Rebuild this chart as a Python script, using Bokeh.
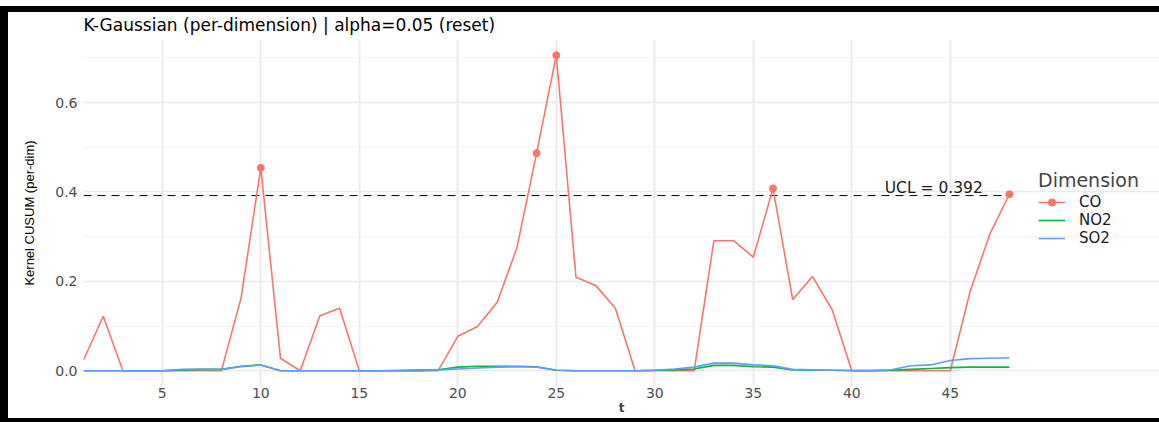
from bokeh.plotting import figure
from bokeh.models import Range1d, Label, Legend, LegendItem, FixedTicker, PrintfTickFormatter
from bokeh.embed import file_html
from bokeh.resources import INLINE

# ---- data ----
t = list(range(1, 49))
co = [0.024, 0.122, 0, 0, 0, 0, 0, 0,
      0.163, 0.454, 0.028, 0, 0.123, 0.140, 0,
      0, 0, 0, 0,
      0.077, 0.099, 0.153, 0.275, 0.487, 0.706, 0.209, 0.191, 0.140, 0,
      0, 0, 0,
      0.291, 0.291, 0.254, 0.408, 0.159, 0.211, 0.137, 0,
      0, 0, 0, 0, 0,
      0.176, 0.305, 0.395]
no2 = [0, 0, 0, 0, 0, 0.002, 0.003, 0.003, 0.010, 0.013,
       0, 0, 0, 0, 0, 0, 0, 0, 0.002, 0.008,
       0.010, 0.010, 0.010, 0.009, 0.001, 0, 0, 0, 0, 0.001,
       0.002, 0.004, 0.012, 0.012, 0.009, 0.008, 0.002, 0.001, 0.001, 0,
       0, 0.001, 0.003, 0.005, 0.007, 0.008, 0.008, 0.008]
so2 = [0, 0, 0, 0, 0, 0.003, 0.003, 0.003, 0.009, 0.013,
       0, 0, 0, 0, 0, 0, 0.001, 0.002, 0.002, 0.004,
       0.006, 0.008, 0.009, 0.008, 0.001, 0, 0, 0, 0, 0.001,
       0.004, 0.008, 0.017, 0.017, 0.013, 0.011, 0.003, 0.002, 0.001, 0.001,
       0.001, 0.002, 0.011, 0.013, 0.023, 0.027, 0.028, 0.029]
ucl = 0.392
dims = ["CO", "NO2", "SO2"]
colors = ["#F8766D", "#00BA38", "#619CFF"]
x_ticks = [5, 10, 15, 20, 25, 30, 35, 40, 45]
y_ticks = [0.0, 0.2, 0.4, 0.6]
y_minor = [0.1, 0.3, 0.5, 0.7]

flag_t = [ti for ti, v in zip(t, co) if v > ucl]
flag_v = [v for v in co if v > ucl]

ymax = max(co)
pad = 0.05 * ymax
x_end_legend_room = 7.62   # extra room to the right of the data for the legend

p = figure(width=1151, height=406,
           x_range=Range1d(min(t), max(t) + x_end_legend_room),
           y_range=Range1d(-pad, ymax + pad),
           output_backend="svg", toolbar_location=None,
           min_border_left=75, min_border_right=0, min_border_top=26, min_border_bottom=32,
           styles={"position": "absolute", "left": "8px", "top": "12px",
                   "box-shadow": "-8px 0 0 0 #000, 0 -6px 0 0 #000, -8px -6px 0 0 #000, "
                                 "0 4px 0 0 #000, -8px 4px 0 0 #000"})

p.title.text = "K-Gaussian (per-dimension) | alpha=0.05 (reset)"
p.title.text_font = "DejaVu Sans"
p.title.text_font_size = "17px"
p.title.text_font_style = "normal"
p.title.text_color = "#000000"
p.title.align = "left"
p.title.vertical_align = "top"
p.title.offset = 0
p.title.standoff = 5

p.outline_line_color = None
p.background_fill_color = "white"
p.border_fill_color = "white"

# axes
p.xaxis.ticker = FixedTicker(ticks=x_ticks)
p.yaxis.ticker = FixedTicker(ticks=y_ticks, minor_ticks=y_minor)
p.yaxis.formatter = PrintfTickFormatter(format="%.1f")
for ax in (p.xaxis, p.yaxis):
    ax.axis_line_color = None
    ax.major_tick_line_color = None
    ax.minor_tick_line_color = None
    ax.major_tick_out = 0
    ax.minor_tick_out = 0
    ax.major_label_text_color = "#4D4D4D"
    ax.major_label_text_font = "DejaVu Sans"
    ax.major_label_text_font_size = "14px"
p.xaxis.major_label_standoff = 1
p.yaxis.major_label_standoff = 6
p.xaxis.axis_label = "t"
p.xaxis.axis_label_text_font = "DejaVu Sans"
p.xaxis.axis_label_text_font_size = "12px"
p.xaxis.axis_label_text_font_style = "bold"
p.xaxis.axis_label_standoff = 0
p.yaxis.axis_label = "Kernel CUSUM (per-dim)"
p.yaxis.axis_label_text_font = "Liberation Sans"
p.yaxis.axis_label_text_font_size = "13px"
p.yaxis.axis_label_text_font_style = "normal"
p.yaxis.axis_label_text_color = "#000000"
p.yaxis.axis_label_standoff = 15

# grids
p.xgrid.grid_line_color = "#EBEBEB"
p.xgrid.grid_line_width = 2
p.ygrid.grid_line_color = "#EBEBEB"
p.ygrid.grid_line_width = 1.5
p.ygrid.minor_grid_line_color = "#F4F4F4"
p.ygrid.minor_grid_line_width = 1
p.ygrid.bounds = (min(t), max(t))

# UCL
p.line([min(t), max(t)], [ucl, ucl], line_color="black", line_width=1, line_dash="8 6")
p.add_layout(Label(x=46.65, y=ucl, text=f"UCL = {ucl:.3f}", text_align="right",
                   text_baseline="bottom", text_font="DejaVu Sans",
                   text_font_size="15.5px", text_color="#1A1A1A", y_offset=-1))

# series
renderers = []
for name, vals, col in zip(dims, [co, no2, so2], colors):
    r = p.line(t, vals, line_color=col, line_width=1.6)
    renderers.append([r])
pts = p.scatter(flag_t, flag_v, size=7, color=colors[0])
renderers[0].append(pts)

legend = Legend(items=[LegendItem(label=n, renderers=r) for n, r in zip(dims, renderers)],
                location=(955, 139), title="Dimension",
                title_text_font="DejaVu Sans", title_text_font_size="19px",
                title_text_font_style="normal", title_standoff=2,
                label_text_font="DejaVu Sans", label_text_font_size="15px",
                label_text_color="#1A1A1A",
                glyph_width=27, glyph_height=18, spacing=0, padding=0, margin=0,
                label_standoff=14, border_line_color=None, background_fill_alpha=0)
p.add_layout(legend)

open("out.html", "w").write(file_html(p, INLINE))
